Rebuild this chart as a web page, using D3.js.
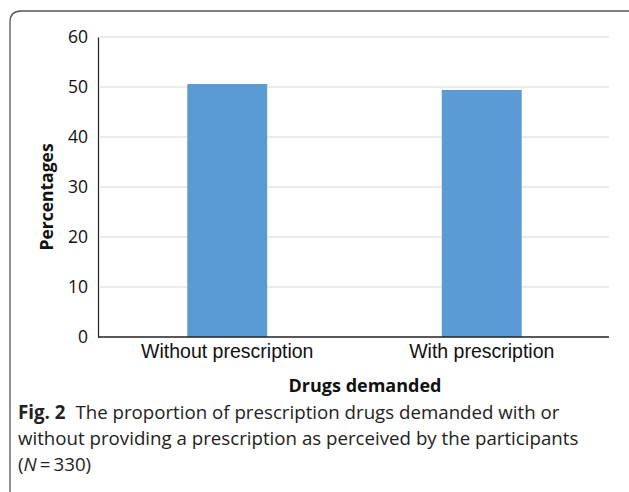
<!DOCTYPE html>
<html>
<head>
<meta charset="utf-8">
<script src="https://cdn.jsdelivr.net/npm/d3@7"></script>
<style>
  body { margin: 0; background: #fff; }
  svg { display: block; }
</style>
</head>
<body>
<svg id="chart" width="629" height="492"></svg>
<script>
// data
var categories = ['Without prescription', 'With prescription'];
var percentages = [50.6, 49.4];
var yTicks = [0, 10, 20, 30, 40, 50, 60];

var svg = d3.select('#chart');
var margin = {left: 100, right: 20, top: 37, bottom: 155};
var width = 629, height = 492;

// frame round the figure, open at the bottom and right like the page crop
svg.append('path')
    .attr('d', 'M10,492 L10,22 Q10,11 21,11 L629,11')
    .attr('fill', 'none')
    .attr('stroke', '#555')
    .attr('stroke-width', 1.3);

var x = d3.scaleBand()
    .domain(categories)
    .range([margin.left, width - margin.right])
    .paddingInner(0.686)
    .paddingOuter(0.343);

var y = d3.scaleLinear()
    .domain([0, 60])
    .range([height - margin.bottom, margin.top]);

// gridlines
svg.append('g').selectAll('line')
    .data(yTicks.filter(function(t) { return t > 0; }))
    .enter().append('line')
    .attr('x1', margin.left)
    .attr('x2', width - margin.right)
    .attr('y1', function(d) { return y(d); })
    .attr('y2', function(d) { return y(d); })
    .attr('stroke', '#d9d9d9')
    .attr('stroke-width', 1.2);

// bars
svg.append('g').selectAll('rect')
    .data(percentages)
    .enter().append('rect')
    .attr('x', function(d, i) { return x(categories[i]); })
    .attr('width', x.bandwidth())
    .attr('y', function(d) { return y(d); })
    .attr('height', function(d) { return y(0) - y(d); })
    .attr('fill', '#5b9bd5');

// y axis
var yAxis = svg.append('g')
    .attr('transform', 'translate(' + (margin.left - 2) + ',0)')
    .call(d3.axisLeft(y).tickValues(yTicks).tickSize(0).tickPadding(10));
yAxis.select('.domain').attr('stroke', '#222').attr('stroke-width', 1.2);
yAxis.selectAll('text')
    .attr('font-family', 'Open Sans, sans-serif')
    .attr('font-size', 17.5)
    .attr('fill', '#111');

// x axis
var xAxis = svg.append('g')
    .attr('transform', 'translate(0,' + y(0) + ')')
    .call(d3.axisBottom(x).tickSize(0).tickPadding(7));
xAxis.select('.domain').attr('stroke', '#222').attr('stroke-width', 1.5)
    .attr('d', 'M' + (margin.left - 2) + ',0H' + (width - margin.right));
xAxis.selectAll('text')
    .attr('font-family', 'Liberation Sans, Arial, sans-serif')
    .attr('font-size', 19.5)
    .attr('fill', '#111');

// axis titles
svg.append('text')
    .attr('x', 365)
    .attr('y', 392)
    .attr('text-anchor', 'middle')
    .attr('font-family', 'Open Sans, sans-serif')
    .attr('font-weight', 'bold')
    .attr('font-size', 18)
    .attr('fill', '#111')
    .text('Drugs demanded');

svg.append('text')
    .attr('transform', 'translate(53,197) rotate(-90)')
    .attr('text-anchor', 'middle')
    .attr('font-family', 'Open Sans, sans-serif')
    .attr('font-weight', 'bold')
    .attr('font-size', 17.5)
    .attr('fill', '#111')
    .text('Percentages');

// caption
var caption = svg.append('g')
    .attr('font-family', 'Open Sans, sans-serif')
    .attr('font-size', 18.7)
    .attr('fill', '#222');
var l1 = caption.append('text').attr('x', 18).attr('y', 419);
l1.append('tspan').attr('font-weight', 'bold').text('Fig. 2');
l1.append('tspan').attr('dx', 10).text('The proportion of prescription drugs demanded with or');
caption.append('text').attr('x', 18).attr('y', 445)
    .text('without providing a prescription as perceived by the participants');
var l3 = caption.append('text').attr('x', 18).attr('y', 471);
l3.append('tspan').text('(');
l3.append('tspan').attr('font-style', 'italic').text('N');
l3.append('tspan').text('\u2009=\u2009330)');
</script>
</body>
</html>
